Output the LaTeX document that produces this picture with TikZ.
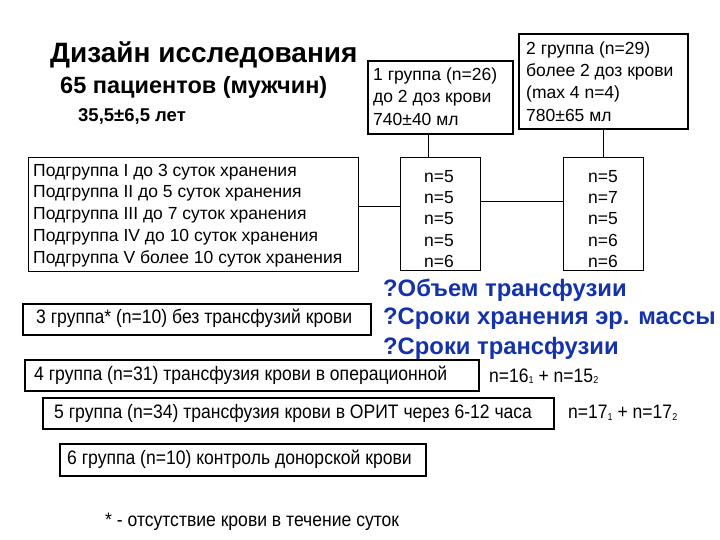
\documentclass[tikz,border=0pt]{standalone}
\usepackage{fontspec}
\setmainfont{Liberation Sans}
\newfontfamily\narrowf[FakeStretch=0.9]{Liberation Sans}
\definecolor{qblue}{RGB}{20,50,170}
\begin{document}
\begin{tikzpicture}[x=1pt,y=-1pt,
  thick box/.style={draw,line width=2pt},
  thin box/.style={draw,line width=1pt},
  tx/.style={inner sep=0pt,anchor=west,font=\fontsize{17.5}{19}\selectfont},
  nx/.style={inner sep=0pt,anchor=west,font=\narrowf\fontsize{19.5}{21}\selectfont},
  bl/.style={inner sep=0pt,anchor=west,text=qblue,font=\bfseries\fontsize{23.8}{26}\selectfont}]
\useasboundingbox[fill=white] (0,0) rectangle (720,540);
% title
\node[inner sep=0pt,anchor=west,font=\bfseries\fontsize{28}{30}\selectfont] (t1) at (50,55) {Дизайн исследования};
\node[inner sep=0pt,anchor=west,font=\bfseries\fontsize{23.5}{25}\selectfont] (t2) at (60,87) {65 пациентов (мужчин)};
\node[inner sep=0pt,anchor=west,font=\bfseries\fontsize{18.5}{20}\selectfont] (t3) at (78,116) {35,5±6,5 лет};
% subgroup box
\node[thin box,minimum width=330pt,minimum height=114pt,anchor=north west] (sg) at (28,157) {};
\foreach \t [count=\i] in {Подгруппа I до 3 суток хранения,Подгруппа II до 5 суток хранения,Подгруппа III до 7 суток хранения,Подгруппа IV до 10 суток хранения,Подгруппа V более 10 суток хранения}
  \node[tx] (sg\i) at (33,150+\i*21.8) {\t};
% group 1 and 2
\node[thick box,minimum width=145pt,minimum height=73pt,anchor=north west] (g1) at (367,60) {};
\node[tx] (g1a) at (373,76) {1 группа (n=26)};
\node[tx] (g1b) at (373,98) {до 2 доз крови};
\node[tx] (g1c) at (373,119) {740±40 мл};
\node[thick box,minimum width=169pt,minimum height=95pt,anchor=north west] (g2) at (518,33) {};
\node[tx] (g2a) at (526,50) {2 группа (n=29)};
\node[tx] (g2b) at (526,72) {более 2 доз крови};
\node[tx] (g2c) at (526,94) {(max 4 n=4)};
\node[tx] (g2d) at (526,115) {780±65 мл};
% n boxes
\node[thin box,minimum width=80pt,minimum height=113pt,anchor=north west] (n1) at (400,157) {};
\node[thin box,minimum width=80pt,minimum height=113pt,anchor=north west] (n2) at (563,157) {};
\foreach \a/\b [count=\i] in {5/5,5/7,5/5,5/6,6/6}{
  \node[tx,anchor=center] (na\i) at (439,155+\i*21.3) {n=\a};
  \node[tx,anchor=center] (nb\i) at (603,155+\i*21.3) {n=\b};}
\draw[line width=1pt] (sg.east |- 0,207) -- (n1.west |- 0,207);
\draw[line width=1pt] (n1.east |- 0,202) -- (n2.west |- 0,202);
\draw[line width=1pt] (g1.south -| 428,0) -- (n1.north -| 428,0);
\draw[line width=1pt] (g2.south -| 603,0) -- (n2.north -| 603,0);
% groups 3-6
\node[thick box,minimum width=348pt,minimum height=31pt,anchor=north west] (g3) at (22,303) {};
\node[nx] (g3t) at (36,318.5) {3 группа* (n=10) без трансфузий крови};
\node[thick box,minimum width=454pt,minimum height=31pt,anchor=north west] (g4) at (24,359) {};
\node[nx] (g4t) at (34,375) {4 группа (n=31) трансфузия крови в операционной};
\node[thick box,minimum width=511pt,minimum height=31pt,anchor=north west] (g5) at (42,397) {};
\node[nx] (g5t) at (54,413) {5 группа (n=34) трансфузия крови в ОРИТ через 6-12 часа};
\node[thick box,minimum width=366pt,minimum height=32pt,anchor=north west] (g6) at (59,443) {};
\node[nx] (g6t) at (67,459) {6 группа (n=10) контроль донорской крови};
\node[nx] (n16) at (489,376) {n=16{\fontsize{10}{10}\selectfont\raisebox{-1.5pt}{1}} + n=15{\fontsize{10}{10}\selectfont\raisebox{-1.5pt}{2}}};
\node[nx] (n17) at (568,413) {n=17{\fontsize{10}{10}\selectfont\raisebox{-1.5pt}{1}} + n=17{\fontsize{10}{10}\selectfont\raisebox{-1.5pt}{2}}};
\node[nx] (fn) at (105,522) {* - отсутствие крови в течение суток};
% blue questions
\node[bl] (q1) at (383,290) {?Объем трансфузии};
\node[bl] (q2) at (383,319) {?Сроки хранения эр. массы};
\node[bl] (q3) at (383,348) {?Сроки трансфузии};
\end{tikzpicture}
\end{document}
